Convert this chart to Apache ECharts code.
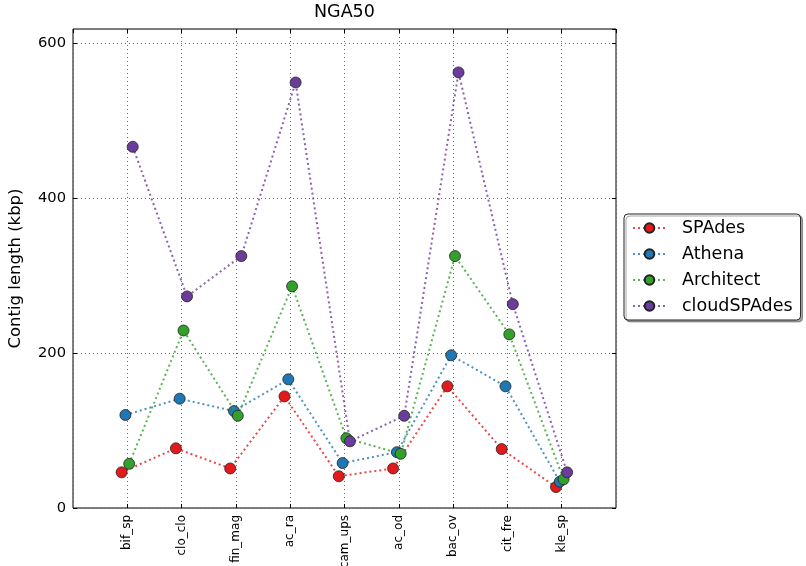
<!DOCTYPE html>
<html>
<head>
<meta charset="utf-8">
<script src="https://cdn.jsdelivr.net/npm/echarts@6/dist/echarts.min.js"></script>
<style>html,body{margin:0;padding:0;background:#fff;}#c{width:806px;height:566px;}</style>
</head>
<body>
<div id="c"></div>
<script>
const categories = ['bif_sp','clo_clo','fin_mag','ac_ra','cam_ups','ac_od','bac_ov','cit_fre','kle_sp'];
const seriesNames = ['SPAdes','Athena','Architect','cloudSPAdes'];
const spades      = [46, 77, 51, 144, 41, 51, 157, 76, 27];
const athena      = [120, 141, 125, 166, 58, 72, 197, 157, 34];
const architect   = [57, 229, 119, 286, 90, 70, 325, 224, 37];
const cloudspades = [466, 273, 325, 549, 86, 119, 562, 263, 46];
const yTicks = [0, 200, 400, 600];

const allValues = [spades, athena, architect, cloudspades];
const markerColors = ['#e31a1c', '#1f78b4', '#33a02c', '#6a3d9a'];
const jitter = [-0.105, -0.035, 0.035, 0.1];
const FONT = 'DejaVu Sans';

const chart = echarts.init(document.getElementById('c'), null, {renderer: 'canvas'});

const gridLine = {show: true, lineStyle: {color: '#666', width: 1, type: [1, 3]}};
const tickIn = {show: true, inside: true, length: 4, lineStyle: {color: '#000'}};
const noLine = {show: false, onZero: false};

const series = allValues.map((vals, s) => ({
  name: seriesNames[s],
  type: 'line',
  xAxisIndex: 0,
  yAxisIndex: 0,
  data: vals.map((v, i) => [i + jitter[s], v]),
  symbol: 'circle',
  symbolSize: 11,
  itemStyle: {color: markerColors[s], borderColor: '#222', borderWidth: 0.8},
  lineStyle: {color: markerColors[s], width: 2, type: [2, 3], opacity: 0.8},
  emphasis: {disabled: true},
  animation: false,
  z: 2 + s
}));

const option = {
  animation: false,
  title: {
    text: 'NGA50',
    left: 314, top: 3, padding: 0,
    textStyle: {fontFamily: FONT, fontSize: 17.5, fontWeight: 'normal', color: '#000'}
  },
  grid: {left: 73, right: 190, top: 29, bottom: 58, show: true, borderColor: '#000', borderWidth: 1,
         backgroundColor: 'transparent', containLabel: false, outerBoundsMode: 'none'},
  legend: {
    orient: 'vertical',
    left: 624, top: 214,
    data: seriesNames,
    itemWidth: 33, itemHeight: 12, itemGap: 8,
    padding: [5, 8, 5, 8],
    backgroundColor: '#fff',
    borderColor: '#222', borderWidth: 1, borderRadius: 4,
    shadowColor: 'rgba(0,0,0,0.35)', shadowOffsetX: 2, shadowOffsetY: 2, shadowBlur: 0,
    textStyle: {fontFamily: FONT, fontSize: 17.5, color: '#000', lineHeight: 18, padding: [0, 0, 0, 11]}
  },
  xAxis: [{
    type: 'value', min: -1, max: 9, interval: 1, position: 'bottom',
    axisLine: noLine,
    axisTick: tickIn,
    axisLabel: {
      rotate: 90, margin: 7, fontFamily: FONT, fontSize: 12, color: '#000',
      formatter: v => (v >= 0 && v < categories.length && Number.isInteger(v)) ? categories[v] : '',
      showMinLabel: false, showMaxLabel: false
    },
    splitLine: gridLine
  }, {
    type: 'value', min: -1, max: 9, interval: 1, position: 'top',
    axisLine: noLine,
    axisTick: tickIn,
    axisLabel: {show: false},
    splitLine: {show: false}
  }],
  yAxis: [{
    type: 'value', min: 0, max: 618, interval: 200, position: 'left',
    name: 'Contig length (kbp)', nameLocation: 'middle', nameGap: 49,
    nameTextStyle: {fontFamily: FONT, fontSize: 16.5, color: '#000'},
    axisLine: noLine,
    axisTick: tickIn,
    axisLabel: {
      margin: 7, fontFamily: FONT, fontSize: 14.7, color: '#000',
      formatter: v => yTicks.includes(v) ? String(v) : '',
      showMaxLabel: false
    },
    splitLine: gridLine
  }, {
    type: 'value', min: 0, max: 618, interval: 200, position: 'right',
    axisLine: noLine,
    axisTick: tickIn,
    axisLabel: {show: false},
    splitLine: {show: false}
  }],
  series: series
};
chart.setOption(option);
</script>
</body>
</html>
